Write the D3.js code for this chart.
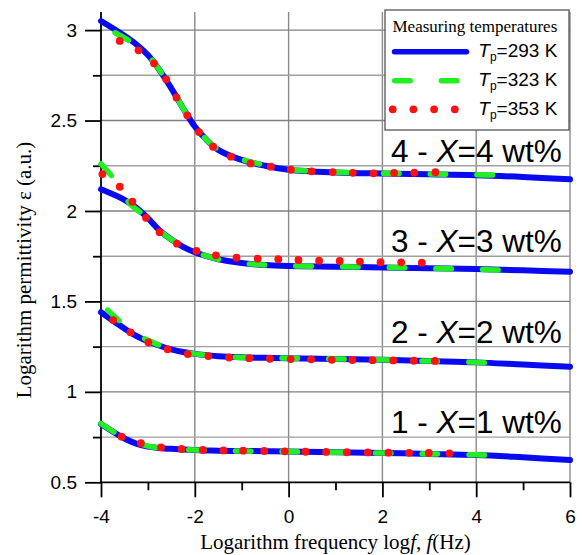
<!DOCTYPE html>
<html>
<head>
<meta charset="utf-8">
<script src="https://cdn.jsdelivr.net/npm/d3@7/dist/d3.min.js"></script>
<style>
body { margin: 0; background: #fff; }
text { fill: #000; }
</style>
</head>
<body>
<svg id="chart" width="582" height="555"></svg>
<script>
// ---- data ----
// Tp = 293 K (solid blue), same frequency grid for all four samples
const blueX = [-4, -3.5, -3.25, -3, -2.75, -2.5, -2.25, -2, -1.75, -1.5, -1, -0.5, 0, 1, 2, 3, 4, 5, 6];
const blue1 = [0.822, 0.742, 0.714, 0.697, 0.690, 0.685, 0.681, 0.678, 0.676, 0.675, 0.673, 0.672, 0.670, 0.666, 0.662, 0.657, 0.651, 0.638, 0.623];
const blue2 = [1.440, 1.350, 1.310, 1.280, 1.255, 1.235, 1.220, 1.210, 1.203, 1.197, 1.191, 1.188, 1.186, 1.182, 1.177, 1.170, 1.163, 1.151, 1.139];
const blue3 = [2.120, 2.062, 2.018, 1.960, 1.892, 1.842, 1.802, 1.772, 1.750, 1.733, 1.712, 1.701, 1.696, 1.692, 1.688, 1.684, 1.679, 1.672, 1.664];
const blue4 = [3.050, 2.969, 2.922, 2.862, 2.778, 2.678, 2.568, 2.467, 2.393, 2.338, 2.282, 2.250, 2.228, 2.213, 2.207, 2.203, 2.198, 2.188, 2.175];

// Tp = 323 K (green dashes)
const green1X = [-4, -3.5, -3, -2.5, -2, -1, 0, 1, 2, 3, 4, 4.36];
const green1 = [0.825, 0.745, 0.700, 0.686, 0.679, 0.673, 0.670, 0.666, 0.662, 0.657, 0.652, 0.649];
const green2X = [-3.86, -3.5, -3, -2.5, -2, -1.5, -1, 0, 1, 2, 3, 4, 4.3];
const green2 = [1.452, 1.370, 1.285, 1.237, 1.210, 1.197, 1.190, 1.186, 1.182, 1.177, 1.170, 1.163, 1.159];
const green3X = [-4, -3.7, -3.4, -3, -2.75, -2.5, -2.25, -2, -1.5, -1, -0.5, 0, 1, 2, 3, 4, 4.6];
const green3 = [2.260, 2.170, 2.045, 1.960, 1.892, 1.842, 1.802, 1.772, 1.733, 1.712, 1.701, 1.697, 1.692, 1.688, 1.683, 1.677, 1.673];
const green4X = [-3.7, -3.3, -3, -2.75, -2.5, -2.25, -2, -1.75, -1.5, -1, -0.5, 0, 1, 2, 3, 4, 4.5];
const green4 = [2.985, 2.925, 2.862, 2.778, 2.678, 2.568, 2.467, 2.393, 2.340, 2.285, 2.253, 2.230, 2.215, 2.208, 2.205, 2.200, 2.198];

// Tp = 353 K (red dots)
const red1X = [-3.56, -3.15, -2.72, -2.28, -1.83, -1.39, -0.97, -0.52, -0.08, 0.36, 0.80, 1.24, 1.69, 2.13, 2.57, 2.99, 3.43];
const red1 = [0.752, 0.716, 0.693, 0.684, 0.679, 0.676, 0.675, 0.673, 0.671, 0.669, 0.668, 0.666, 0.665, 0.664, 0.663, 0.662, 0.660];
const red2X = [-3.74, -3.37, -2.99, -2.58, -2.15, -1.71, -1.27, -0.84, -0.40, 0.045, 0.48, 0.92, 1.36, 1.79, 2.23, 2.67, 3.12];
const red2 = [1.397, 1.329, 1.274, 1.235, 1.209, 1.198, 1.190, 1.186, 1.183, 1.181, 1.180, 1.177, 1.176, 1.175, 1.174, 1.172, 1.171];
const red3X = [-3.97, -3.60, -3.33, -3.04, -2.75, -2.38, -1.965, -1.55, -1.11, -0.66, -0.22, 0.21, 0.65, 1.09, 1.52, 1.96, 2.40, 2.84];
const red3 = [2.204, 2.134, 2.051, 1.962, 1.883, 1.819, 1.779, 1.755, 1.742, 1.736, 1.733, 1.729, 1.725, 1.724, 1.720, 1.717, 1.716, 1.714];
const red4X = [-3.60, -3.20, -2.87, -2.61, -2.39, -2.16, -1.91, -1.61, -1.23, -0.81, -0.38, 0.05, 0.49, 0.94, 1.37, 1.81, 2.25, 2.68, 3.13];
const red4 = [2.940, 2.888, 2.816, 2.728, 2.628, 2.529, 2.436, 2.355, 2.300, 2.263, 2.245, 2.228, 2.219, 2.215, 2.211, 2.208, 2.210, 2.212, 2.214];

const xMajor = [-4, -2, 0, 2, 4, 6];
const xMinor = [-3, -1, 1, 3, 5];
const yMajor = [0.5, 1, 1.5, 2, 2.5, 3];
const yMinor = [0.75, 1.25, 1.75, 2.25, 2.75];

const sampleNames = ["1", "2", "3", "4"];
const legendNames = ["293 K", "323 K", "353 K"];

// ---- setup ----
const svg = d3.select("#chart");
const sans = "'Liberation Sans', Arial, sans-serif";
const serif = "'Liberation Serif', 'Times New Roman', serif";
const BLUE = "#0a0af0", GREEN = "#22ee22", RED = "#ff1111";

const x = d3.scaleLinear().domain([-4, 6]).range([101, 570]);
const y = d3.scaleLinear().domain([0.5, 3.1]).range([482.3, 12]);
const plotTop = y.range()[1], plotBottom = y.range()[0];

// grid
const grid = svg.append("g");
grid.selectAll(".vg").data(xMajor.slice(1)).enter().append("line")
    .attr("x1", d => x(d)).attr("x2", d => x(d))
    .attr("y1", plotTop).attr("y2", plotBottom)
    .attr("stroke", "#8a8a8a").attr("stroke-width", 1.4);
grid.selectAll(".hg").data(yMajor.slice(1).concat(yMinor)).enter().append("line")
    .attr("x1", x(-4)).attr("x2", x(6))
    .attr("y1", d => y(d)).attr("y2", d => y(d))
    .attr("stroke", d => yMajor.includes(d) ? "#808080" : "#a0a0a0")
    .attr("stroke-width", 1.4);

// axes
const xAxis = svg.append("g").attr("transform", `translate(0,${plotBottom})`)
    .call(d3.axisBottom(x).tickValues(xMajor).tickSize(15).tickPadding(12).tickFormat(d => String(d)));
const xAxisMinor = svg.append("g").attr("transform", `translate(0,${plotBottom})`)
    .call(d3.axisBottom(x).tickValues(xMinor).tickSize(8).tickFormat(""));
const yAxis = svg.append("g").attr("transform", `translate(${x(-4)},0)`)
    .call(d3.axisLeft(y).tickValues(yMajor).tickSize(16).tickPadding(8).tickFormat(d => String(d)));
const yAxisMinor = svg.append("g").attr("transform", `translate(${x(-4)},0)`)
    .call(d3.axisLeft(y).tickValues(yMinor).tickSize(8).tickFormat(""));

[xAxis, xAxisMinor, yAxis, yAxisMinor].forEach(g => {
    g.select(".domain").attr("stroke", "#000").attr("stroke-width", 1.8);
    g.selectAll(".tick line").attr("stroke", "#000").attr("stroke-width", 1.8);
    g.selectAll("text").attr("font-family", sans).attr("font-size", 19).attr("fill", "#000");
});
xAxisMinor.select(".domain").remove();
yAxisMinor.select(".domain").remove();
// plain axis lines without end caps
yAxis.select(".domain").attr("d", `M0,${plotTop}V${plotBottom}`);
xAxis.select(".domain").attr("d", `M${x(-4)},0H${x(6)}`);

// axis titles
svg.append("text")
    .attr("x", (x(-4) + x(6)) / 2).attr("y", 549)
    .attr("text-anchor", "middle")
    .attr("font-family", serif).attr("font-size", 21)
    .html('Logarithm frequency log<tspan font-style="italic">f</tspan>, <tspan font-style="italic">f</tspan>(Hz)');

svg.append("text")
    .attr("transform", `translate(30.5,${270}) rotate(-90)`)
    .attr("text-anchor", "middle")
    .attr("font-family", serif).attr("font-size", 21)
    .text("Logarithm permittivity ε (a.u.)");

// ---- curves ----
const line = d3.line().x(d => x(d[0])).y(d => y(d[1])).curve(d3.curveCatmullRom.alpha(0.5));
const zipPts = (xs, ys) => xs.map((v, i) => [v, ys[i]]);

const blueSeries = [blue1, blue2, blue3, blue4].map(s => zipPts(blueX, s));
const greenSeries = [[green1X, green1], [green2X, green2], [green3X, green3], [green4X, green4]].map(s => zipPts(s[0], s[1]));
const redSeries = [[red1X, red1], [red2X, red2], [red3X, red3], [red4X, red4]].map(s => zipPts(s[0], s[1]));

svg.append("g").selectAll("path").data(blueSeries).enter().append("path")
    .attr("d", line).attr("fill", "none")
    .attr("stroke", BLUE).attr("stroke-width", 6).attr("stroke-linecap", "round");

svg.append("g").selectAll("path").data(greenSeries).enter().append("path")
    .attr("d", line).attr("fill", "none")
    .attr("stroke", GREEN).attr("stroke-width", 5.5).attr("stroke-linecap", "round")
    .attr("stroke-dasharray", "15.5 31.2");

svg.append("g").selectAll("g").data(redSeries).enter().append("g")
    .selectAll("circle").data(d => d).enter().append("circle")
    .attr("cx", d => x(d[0])).attr("cy", d => y(d[1])).attr("r", 3.9)
    .attr("fill", RED);

// ---- sample labels ----
svg.append("g").selectAll("text").data(sampleNames).enter().append("text")
    .attr("x", 391).attr("y", (d, i) => y(0.772 + 0.5 * i))
    .attr("font-family", sans).attr("font-size", 31.5)
    .html(d => `${d} - <tspan font-style="italic">X</tspan>=${d} wt%`);

// ---- legend ----
const legend = svg.append("g").attr("transform", "translate(385,10)");
legend.append("rect").attr("width", 184).attr("height", 120)
    .attr("fill", "#fff").attr("stroke", "#555").attr("stroke-width", 1.3);
legend.append("text").attr("x", 7.5).attr("y", 21.5)
    .attr("font-family", serif).attr("font-size", 17)
    .text("Measuring temperatures");

const rowY = [41.7, 70.7, 99.3];
legend.append("line").attr("x1", 9.5).attr("x2", 81.5).attr("y1", rowY[0]).attr("y2", rowY[0])
    .attr("stroke", BLUE).attr("stroke-width", 5.5).attr("stroke-linecap", "round");
legend.append("line").attr("x1", 9.7).attr("x2", 72).attr("y1", rowY[1]).attr("y2", rowY[1])
    .attr("stroke", GREEN).attr("stroke-width", 5.5).attr("stroke-linecap", "round")
    .attr("stroke-dasharray", "15.5 31.2");
legend.selectAll(".ld").data(d3.range(4)).enter().append("circle")
    .attr("cx", d => 7.7 + d * 20.7).attr("cy", rowY[2]).attr("r", 3.9).attr("fill", RED);

legend.selectAll(".lt").data(legendNames).enter().append("text")
    .attr("x", 93.3).attr("y", (d, i) => rowY[i] + 5.5)
    .attr("font-family", sans).attr("font-size", 19)
    .html(d => `<tspan font-style="italic">T</tspan><tspan font-size="12" dy="4">p</tspan><tspan dy="-4">=${d}</tspan>`);
</script>
</body>
</html>
